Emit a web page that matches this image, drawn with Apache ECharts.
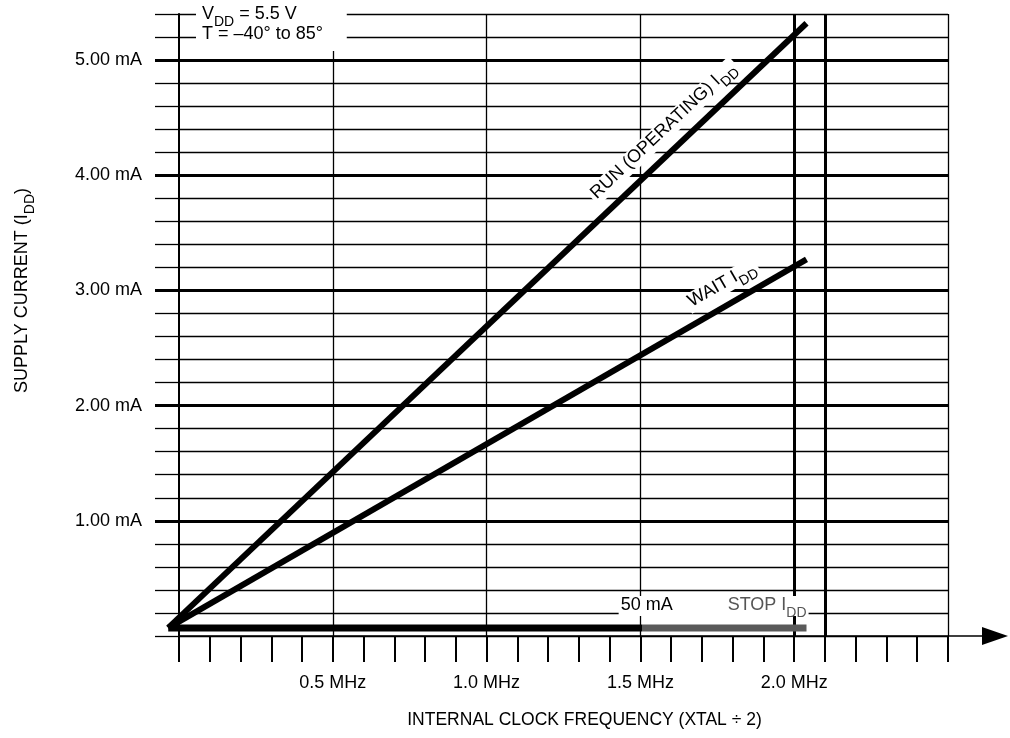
<!DOCTYPE html>
<html>
<head>
<meta charset="utf-8">
<script src="https://cdn.jsdelivr.net/npm/echarts@6/dist/echarts.min.js"></script>
<style>
  html, body { margin: 0; background: #fff; }
  #chart { width: 1010px; height: 738px; }
</style>
</head>
<body>
<div id="chart"></div>
<script>
// frequency in MHz, current in mA
const freqRange = [-0.035, 2.04];
const runCurrent = [0.07, 5.32];
const waitCurrent = [0.07, 3.27];
const stopCurrent = [0.07, 0.07];
const guideFreqs = [2.0, 2.1];
const xTickLabels = ['0.5 MHz', '1.0 MHz', '1.5 MHz', '2.0 MHz'];
const yTickLabels = ['1.00 mA', '2.00 mA', '3.00 mA', '4.00 mA', '5.00 mA'];

const FONT = "'Liberation Sans', Arial, sans-serif";
const INK = '#000';
const FS = 18;
const SUB = 14;

// plot box in pixels
const PX = { left: 179, right: 948, top: 14, bottom: 636 };
const X_MAX = 2.5, Y_MAX = 5.4;
const pxPerMA = (PX.bottom - PX.top) / Y_MAX;
const pxPerMHz = (PX.right - PX.left) / X_MAX;
const X_PAD = 0.1; // series grid reaches a bit left of 0 so the lines are not clipped

const toPairs = cur => freqRange.map((f, i) => [f, cur[i]]);
const onLine = (cur, f) =>
    cur[0] + (f - freqRange[0]) * (cur[1] - cur[0]) / (freqRange[1] - freqRange[0]);

const rich = {
    n: { fontSize: FS, lineHeight: 20, verticalAlign: 'top', color: INK, fontFamily: FONT, fontWeight: 'normal' },
    s: { fontSize: SUB, lineHeight: 13, padding: [10, 0, 0, 0], verticalAlign: 'top', color: INK, fontFamily: FONT, fontWeight: 'normal' },
    g: { width: 55 },
    t: { fontSize: FS, lineHeight: 20, verticalAlign: 'top', color: '#555', fontFamily: FONT },
    ts: { fontSize: SUB, lineHeight: 13, padding: [10, 0, 0, 0], verticalAlign: 'top', color: '#555', fontFamily: FONT }
};

const lineLabel = (text, cur, f, angle, dist) => ({
    z: 10,
    symbol: 'rect',
    symbolSize: 0,
    silent: true,
    data: [{ coord: [f, onLine(cur, f)] }],
    label: {
        show: true,
        position: 'inside',
        rotate: angle,
        offset: [0, -dist],
        formatter: text,
        backgroundColor: '#fff',
        padding: [0, 3],
        color: INK,
        rich: rich
    }
});

const stopSplit = (1.5 - freqRange[0]) / (freqRange[1] - freqRange[0]);

const chart = echarts.init(document.getElementById('chart'), null, { renderer: 'canvas' });

chart.setOption({
    animation: false,
    backgroundColor: '#fff',
    textStyle: { fontFamily: FONT },
    title: [
        {
            left: 196,
            top: 0,
            text: '{n|V}{s|DD}{n| = 5.5 V}',
            backgroundColor: '#fff',
            padding: [5, 50, 22, 6],
            textStyle: { fontWeight: 'normal', rich: rich }
        },
        {
            left: 202,
            top: 24,
            padding: 0,
            text: 'T = \u201340\u00b0 to 85\u00b0',
            textStyle: { fontSize: FS, fontWeight: 'normal', color: INK, fontFamily: FONT, lineHeight: 20 }
        }
    ],
    grid: [
        // main plot: ticks and grid lines
        { left: PX.left, right: 1010 - PX.right, top: PX.top, bottom: 738 - PX.bottom },
        // major 1 mA lines (1..5)
        {
            left: PX.left,
            right: 1010 - PX.right,
            top: PX.bottom - 5 * pxPerMA,
            bottom: 738 - (PX.bottom - 1 * pxPerMA)
        },
        // axis arrow
        { left: PX.left, right: 15, top: PX.top, bottom: 738 - PX.bottom },
        // series
        { left: PX.left - X_PAD * pxPerMHz, right: 1010 - PX.right, top: PX.top, bottom: 738 - PX.bottom }
    ],
    xAxis: [
        {
            gridIndex: 0, type: 'value', position: 'bottom',
            min: 0, max: X_MAX, interval: 0.1,
            axisLine: { show: false },
            axisTick: { show: true, length: 26, lineStyle: { color: '#000', width: 2 } },
            axisLabel: { show: false },
            splitLine: { show: false }
        },
        {
            gridIndex: 0, type: 'value', position: 'bottom',
            min: 0, max: X_MAX, interval: 0.5,
            axisLine: { show: false },
            axisTick: { show: false },
            splitLine: { show: true, showMinLine: false, lineStyle: { color: '#000', width: 1.3 } },
            axisLabel: {
                margin: 38, fontSize: FS, color: INK, fontFamily: FONT,
                formatter: v => xTickLabels[Math.round(v / 0.5) - 1] || ''
            },
            name: 'INTERNAL CLOCK FREQUENCY (XTAL \u00f7 2)',
            nameLocation: 'middle',
            nameGap: 75,
            nameTextStyle: { fontSize: 17.5, color: INK, fontFamily: FONT, padding: [0, 0, 0, 42] }
        },
        { gridIndex: 1, type: 'value', min: 0, max: X_MAX, show: false },
        {
            gridIndex: 2, type: 'value', position: 'bottom', min: 0, max: 1,
            axisLine: {
                show: true, onZero: false,
                symbol: ['none', 'triangle'], symbolSize: [18, 26],
                lineStyle: { color: '#000', width: 1.5 }
            },
            axisTick: { show: false },
            axisLabel: { show: false },
            splitLine: { show: false }
        },
        { gridIndex: 3, type: 'value', min: -X_PAD, max: X_MAX, show: false }
    ],
    yAxis: [
        {
            gridIndex: 0, type: 'value', min: 0, max: Y_MAX, interval: 0.2,
            axisLine: { show: true, onZero: false, lineStyle: { color: '#000', width: 2 } },
            axisTick: { show: true, length: 24, lineStyle: { color: '#000', width: 1.3 } },
            axisLabel: { show: false },
            splitLine: { show: true, lineStyle: { color: '#000', width: 1.3 } }
        },
        {
            gridIndex: 1, type: 'value', min: 1, max: 5, interval: 1,
            axisLine: { show: false },
            axisTick: { show: true, length: 24, lineStyle: { color: '#000', width: 3 } },
            splitLine: { show: true, lineStyle: { color: '#000', width: 3 } },
            axisLabel: {
                margin: 37, fontSize: FS, color: INK, fontFamily: FONT,
                formatter: v => yTickLabels[Math.round(v) - 1] || ''
            },
            name: '{n|SUPPLY CURRENT (I}{s|DD}{n|)}',
            nameLocation: 'middle',
            nameRotate: 90,
            nameGap: 146,
            nameTextStyle: { rich: rich }
        },
        { gridIndex: 2, type: 'value', min: 0, max: 1, show: false },
        { gridIndex: 3, type: 'value', min: 0, max: Y_MAX, show: false }
    ],
    series: [
        {
            name: 'RUN', type: 'line', xAxisIndex: 4, yAxisIndex: 3,
            data: toPairs(runCurrent), symbol: 'none', z: 3,
            lineStyle: { color: '#000', width: 6 },
            markPoint: lineLabel('{n|RUN (OPERATING) I}{s|DD}', runCurrent, 1.62, 43.3, 20)
        },
        {
            name: 'WAIT', type: 'line', xAxisIndex: 4, yAxisIndex: 3,
            data: toPairs(waitCurrent), symbol: 'none', z: 3,
            lineStyle: { color: '#000', width: 6 },
            markPoint: lineLabel('{n|WAIT I}{s|DD}', waitCurrent, 1.798, 30, 20)
        },
        {
            name: 'STOP', type: 'line', xAxisIndex: 4, yAxisIndex: 3,
            data: toPairs(stopCurrent), symbol: 'none', z: 3,
            lineStyle: {
                width: 7,
                color: new echarts.graphic.LinearGradient(0, 0, 1, 0, [
                    { offset: 0, color: '#000' },
                    { offset: stopSplit, color: '#000' },
                    { offset: stopSplit, color: '#5a5a5a' },
                    { offset: 1, color: '#5a5a5a' }
                ])
            },
            markLine: {
                z: 1, silent: true, symbol: 'none',
                label: { show: false },
                lineStyle: { color: '#000', width: 3, type: 'solid' },
                data: guideFreqs.map(f => ({ xAxis: f }))
            },
            markPoint: {
                z: 10, symbol: 'rect', symbolSize: 0, silent: true,
                data: [{ coord: [1.738, stopCurrent[0]] }],
                label: {
                    show: true, position: 'inside', offset: [0, -22],
                    formatter: '{n|50 mA}{g|}{t|STOP I}{ts|DD}',
                    backgroundColor: '#fff', padding: [0, 2], color: INK,
                    rich: rich
                }
            }
        }
    ]
});
</script>
</body>
</html>
